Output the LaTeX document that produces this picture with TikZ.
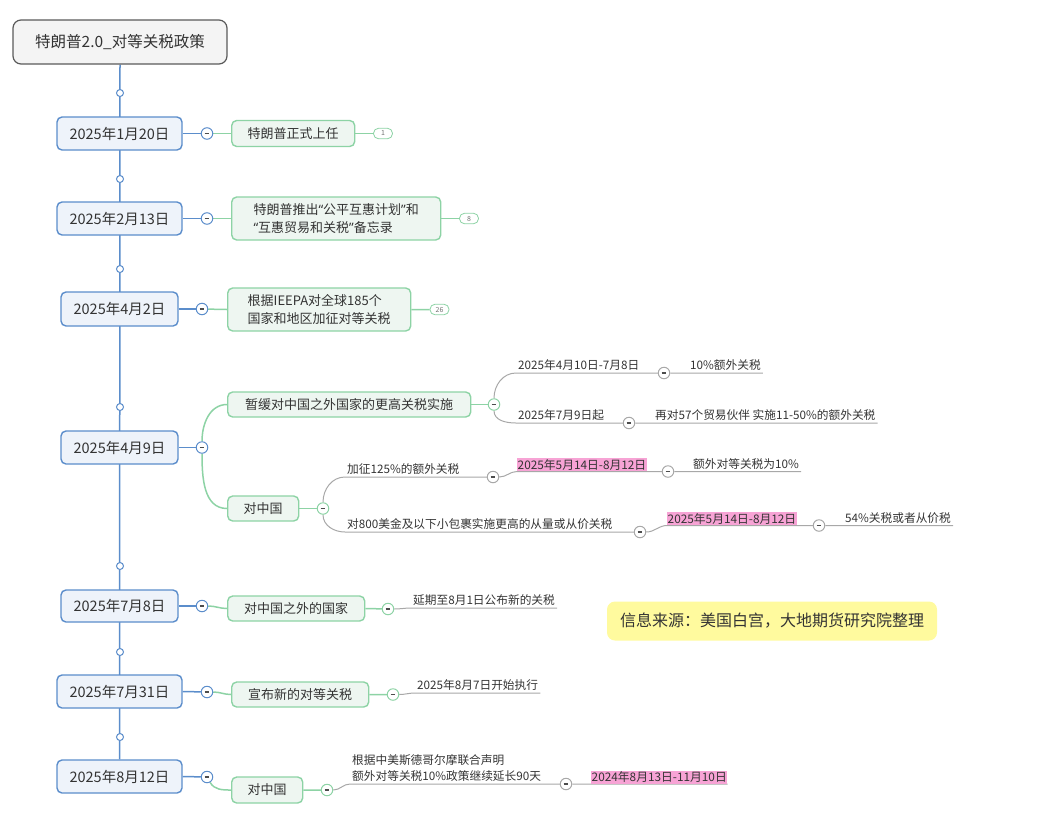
\documentclass[tikz,border=0pt]{standalone}
\usepackage{fontspec}
\setmainfont{Noto Sans CJK SC}
\newfontfamily\quotefont{Noto Sans}
\usetikzlibrary{positioning,backgrounds}
\definecolor{lineblue}{HTML}{5B8DCB}
\definecolor{bluefill}{HTML}{EEF3FA}
\definecolor{linegreen}{HTML}{8DD3A5}
\definecolor{greenfill}{HTML}{EEF6F1}
\definecolor{leafgray}{HTML}{A8A8A8}
\definecolor{rootgray}{HTML}{5A5A5A}
\definecolor{rootfill}{HTML}{F4F4F4}
\definecolor{txtgray}{HTML}{333333}
\definecolor{markpink}{HTML}{F7A3D5}
\definecolor{noteyellow}{HTML}{FFFA9E}
\newcommand{\qopen}{{\quotefont “}}
\newcommand{\qclose}{{\quotefont ”}}

\begin{document}
\begin{tikzpicture}[
  x=1pt,y=-1pt,
  every node/.style={text=txtgray},
  rootbox/.style={rectangle,rounded corners=8pt,draw=rootgray,line width=1.2pt,fill=rootfill,minimum width=214pt,minimum height=44pt,font=\fontsize{15.5}{18}\selectfont},
  datebox/.style={rectangle,rounded corners=5pt,draw=lineblue,line width=1.4pt,fill=bluefill,minimum height=33pt,font=\fontsize{14.5}{17}\selectfont},
  topic/.style={rectangle,rounded corners=5pt,draw=linegreen,line width=1.4pt,fill=greenfill,minimum height=25pt,anchor=west,align=left,font=\fontsize{13}{18}\selectfont},
  knob/.style={circle,draw=lineblue,fill=white,line width=1pt,minimum size=7pt,inner sep=0pt},
  fold/.style={circle,fill=white,line width=1pt,minimum size=11.5pt,inner sep=0pt,
    path picture={\draw[line width=1.2pt,black!70] ([xshift=-2.3pt]path picture bounding box.center) -- ([xshift=2.3pt]path picture bounding box.center);}},
  bfold/.style={fold,draw=lineblue},
  gfold/.style={fold,draw=linegreen},
  lfold/.style={fold,draw=leafgray},
  badge/.style={rectangle,rounded corners=5pt,draw=linegreen,fill=white,line width=0.8pt,minimum width=19pt,minimum height=10.5pt,inner sep=0pt,font=\fontsize{7}{8}\selectfont,text=black!55},
  leaf/.style={anchor=south west,inner xsep=2pt,inner ysep=2pt,align=left,font=\fontsize{11.7}{16}\selectfont},
  hilite/.style={anchor=south west,inner xsep=0.5pt,inner ysep=1.2pt,fill=markpink,font=\fontsize{11.8}{14}\selectfont},
  srcnote/.style={rectangle,rounded corners=8pt,fill=noteyellow,minimum width=330pt,minimum height=39pt,font=\fontsize{16}{19}\selectfont},
  bl/.style={draw=lineblue,line width=1.5pt},
  gl/.style={draw=linegreen,line width=1.5pt},
  ll/.style={draw=leafgray,line width=1pt}
]
\useasboundingbox (0,0) rectangle (1048,825);
% root and dates
\node[rootbox] (root) at (120,42) {特朗普2.0\_对等关税政策};
\node[datebox,minimum width=125pt] (d1) at (119.5,133.5) {2025年1月20日};
\node[datebox,minimum width=125pt] (d2) at (119.5,218.5) {2025年2月13日};
\node[datebox,minimum width=117pt,minimum height=34pt] (d3) at (119.5,309) {2025年4月2日};
\node[datebox,minimum width=117pt] (d4) at (119.5,447.5) {2025年4月9日};
\node[datebox,minimum width=117pt,minimum height=32pt] (d5) at (119.5,606) {2025年7月8日};
\node[datebox,minimum width=125pt] (d6) at (119.5,691.5) {2025年7月31日};
\node[datebox,minimum width=125pt] (d7) at (119.5,776.5) {2025年8月12日};
\foreach \y [count=\i] in {93,179,269,407,566,652,737}
  \node[knob] (n\i) at (120,\y) {};
% fold buttons next to the dates
\node[bfold] (c1) at (207,133.5) {};
\node[bfold] (c2) at (207,218.5) {};
\node[bfold] (c3) at (202,309) {};
\node[bfold] (c4) at (202,447.5) {};
\node[bfold] (c5) at (202,606) {};
\node[bfold] (c6) at (207,692) {};
\node[bfold] (c7) at (207,777) {};
% topics
\node[topic,minimum width=123pt,minimum height=26pt] (g1) at (231,133.5) {特朗普正式上任};
\node[topic,minimum width=209pt,minimum height=43pt] (g2) at (231,218.5) {特朗普推出\qopen 公平互惠计划\qclose 和\\\qopen 互惠贸易和关税\qclose 备忘录};
\node[topic,minimum width=183pt,minimum height=43pt] (g3) at (227,309.5) {根据IEEPA对全球185个\\国家和地区加征对等关税};
\node[topic,minimum width=243pt] (g4a) at (227,404.5) {暂缓对中国之外国家的更高关税实施};
\node[topic,minimum width=71pt] (g4b) at (227,508.5) {对中国};
\node[topic,minimum width=137pt] (g5) at (227,608.5) {对中国之外的国家};
\node[topic,minimum width=137pt] (g6) at (231,694.5) {宣布新的对等关税};
\node[topic,minimum width=71pt,minimum height=26pt] (g7) at (231,790) {对中国};
\node[badge] (b1) at (383,133.5) {1};
\node[badge] (b2) at (469,218.5) {8};
\node[badge] (b3) at (439.5,309.5) {26};
\node[gfold] (f4a) at (494,404.5) {};
\node[gfold] (f4b) at (323,508.5) {};
\node[gfold] (f5) at (388,609) {};
\node[gfold] (f6) at (393,694.5) {};
\node[gfold] (f7) at (327,790) {};
% leaves
\node[leaf] (l1) at (516,373) {2025年4月10日-7月8日};
\node[lfold] (e1) at (664,373) {};
\node[leaf] (l1r) at (688,373) {10\%额外关税};
\node[leaf] (l2) at (516,423) {2025年7月9日起};
\node[lfold] (e2) at (629,423) {};
\node[leaf] (l2r) at (653,423) {再对57个贸易伙伴 实施11-50\%的额外关税};
\node[leaf] (l3) at (345,477) {加征125\%的额外关税};
\node[lfold] (e3) at (493,477) {};
\node[hilite] (p1) at (517,471.5) {2025年5月14日-8月12日};
\node[lfold] (e4) at (668,471.5) {};
\node[leaf] (l3r) at (691,471.5) {额外对等关税为10\%};
\node[leaf] (l4) at (345,532) {对800美金及以下小包裹实施更高的从量或从价关税};
\node[lfold] (e5) at (640,532) {};
\node[hilite] (p2) at (667,525.5) {2025年5月14日-8月12日};
\node[lfold] (e6) at (819,525.5) {};
\node[leaf] (l4r) at (843,525.5) {54\%关税或者从价税};
\node[leaf] (l5) at (411,608) {延期至8月1日公布新的关税};
\node[leaf] (l6) at (415,693) {2025年8月7日开始执行};
\node[leaf] (l7) at (350,784) {根据中美斯德哥尔摩联合声明\\额外对等关税10\%政策继续延长90天};
\node[lfold] (e7) at (566,784) {};
\node[hilite] (p3) at (591,784) {2024年8月13日-11月10日};
\node[srcnote] (src) at (772,621) {信息来源：美国白宫，大地期货研究院整理};
\begin{scope}[on background layer]
\draw[bl] (root.south) -- (d7.north);
\foreach \i in {1,...,7} \draw[bl] (d\i.east) -- (c\i);
\draw[gl] (c1) -- (g1.west) (g1.east) -- (b1.west);
\draw[gl] (c2) -- (g2.west) (g2.east) -- (b2.west);
\draw[gl] (c3) -- (g3.west) (g3.east) -- (b3.west);
\draw[gl] (c4.north) to[out=90,in=180] (g4a.west);
\draw[gl] (c4.south) to[out=-90,in=180] (g4b.west);
\draw[gl] (g4a.east) -- (f4a) (g4b.east) -- (f4b);
\draw[gl] (c5) to[out=0,in=180] (g5.west) (g5.east) -- (f5);
\draw[gl] (c6) to[out=0,in=180] (g6.west) (g6.east) -- (f6);
\draw[gl] (c7) to[out=-60,in=180] (g7.west) (g7.east) -- (f7);
\draw[ll] (f4a.north) to[out=90,in=180] (l1.south west) -- (e1) -- (l1r.south west) -- (l1r.south east);
\draw[ll] (f4a.south) to[out=-90,in=180] (l2.south west) -- (e2) -- (l2r.south west) -- (l2r.south east);
\draw[ll] (f4b.north) to[out=90,in=180] (l3.south west) -- (e3) to[out=0,in=180] (p1.south west) -- (e4) -- (l3r.south west) -- (l3r.south east);
\draw[ll] (f4b.south) to[out=-90,in=180] (l4.south west) -- (e5) to[out=0,in=180] (p2.south west) -- (e6) -- (l4r.south west) -- (l4r.south east);
\draw[ll] (f5) to[out=0,in=180] (l5.south west) -- (l5.south east);
\draw[ll] (f6) to[out=0,in=180] (l6.south west) -- (l6.south east);
\draw[ll] (f7) to[out=0,in=180] (l7.south west) -- (e7) -- (p3.south west) -- (p3.south east);
\end{scope}
\end{tikzpicture}
\end{document}
